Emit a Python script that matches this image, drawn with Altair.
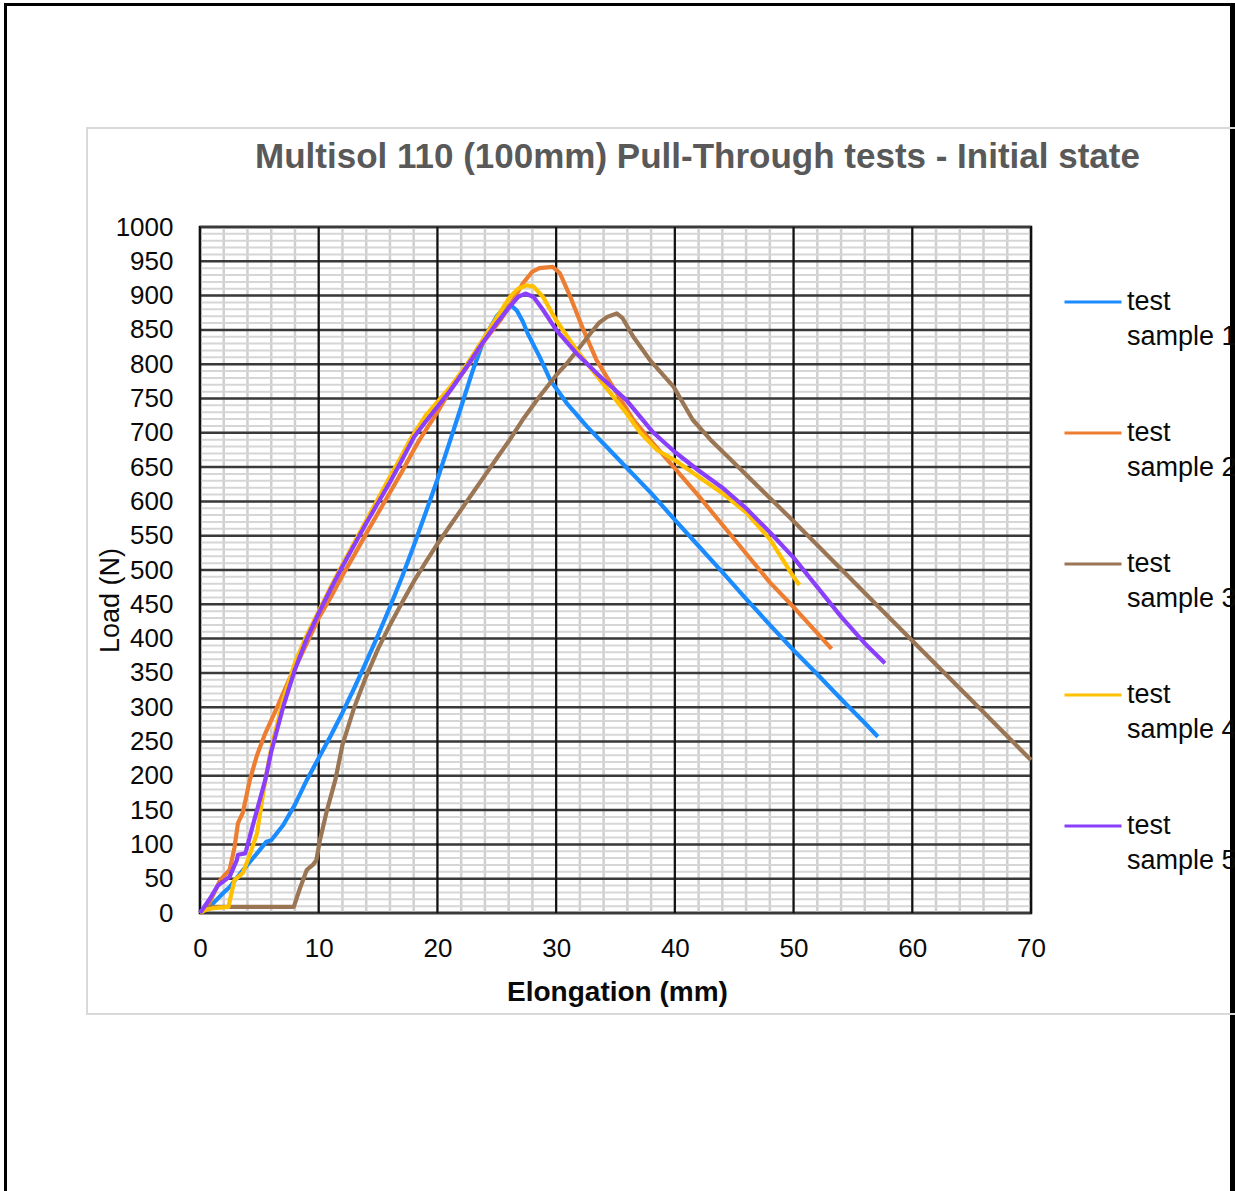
import altair as alt
import pandas as pd

series_names = ["test sample 1", "test sample 2", "test sample 3", "test sample 4", "test sample 5"]
series_colors = ["#1a8cff", "#ed7d31", "#9a7654", "#ffc000", "#8a3ffc"]

s1_x = [0, 0.5, 1.1, 2.0, 2.5, 3.5, 4.8, 5.6, 6.0, 7.0, 8.0, 9.0, 10.0, 11.0, 12.0, 13.0, 14.0, 15.0, 16.0, 17.0,
        18.0, 19.0, 20.0, 21.0, 22.0, 23.0, 24.0, 25.0, 25.7, 26.2, 26.7, 27.2, 27.6, 28.6, 29.5, 30.9, 32.6, 34.0,
        36.0, 38.0, 40.0, 42.0, 44.0, 46.0, 48.0, 50.0, 52.0, 54.0, 56.0, 57.1]
s1_y = [0, 7, 14, 30, 38, 60, 87, 104, 106, 128, 158, 194, 226, 258, 292, 328, 366, 405, 446, 489,
        535, 583, 632, 685, 738, 792, 840, 870, 884, 886, 878, 862, 845, 811, 777, 743, 709, 684,
        648, 612, 573, 535, 497, 458, 420, 383, 348, 312, 277, 257]

s2_x = [0, 0.8, 1.7, 2.5, 2.9, 3.2, 3.6, 4.2, 4.8, 5.5, 6.5, 7.5, 8.5, 10.0, 11.0, 12.0, 13.0, 14.0, 15.0, 16.0,
        17.0, 18.0, 18.5, 20.0, 21.0, 22.5, 24.0, 25.3, 26.5, 27.2, 28.0, 28.6, 29.7, 30.3, 31.2, 32.3, 33.4, 35.1,
        36.5, 38.0, 40.0, 42.0, 44.0, 46.0, 48.0, 50.0, 52.0, 53.2]
s2_y = [0, 15, 48, 63, 95, 131, 146, 194, 230, 262, 300, 340, 375, 430, 460, 492, 522, 553, 583, 613,
        643, 675, 690, 730, 760, 796, 835, 864, 897, 918, 935, 940, 942, 933, 898, 850, 806, 758,
        719, 688, 648, 608, 566, 524, 482, 446, 408, 385]

s3_x = [0, 0.8, 7.9, 8.4, 9.0, 9.5, 9.8, 10.1, 10.7, 11.4, 12.0, 13.0, 14.0, 15.0, 16.0, 17.0, 18.0, 19.0, 20.0,
        21.0, 22.0, 23.0, 24.0, 25.0, 26.1, 27.3, 28.6, 30.0, 30.9, 32.0, 32.9, 33.6, 34.3, 35.1, 35.6, 36.5, 37.9,
        39.9, 41.5, 43.0, 45.0, 50.0, 55.0, 60.0, 65.0, 70.0]
s3_y = [0, 9, 9, 35, 63, 70, 77, 106, 150, 194, 245, 300, 345, 385, 420, 452, 483, 511, 538,
        563, 588, 613, 638, 663, 690, 722, 753, 784, 801, 825, 845, 860, 869, 874, 867, 840, 806,
        767, 719, 690, 656, 571, 484, 397, 310, 223]

s4_x = [0, 0.5, 1.1, 2.4, 2.9, 3.6, 4.2, 4.8, 5.5, 6.0, 7.0, 8.0, 9.0, 10.0, 11.0, 12.0, 13.0, 14.0, 15.0, 16.0,
        17.0, 17.7, 19.0, 20.0, 21.1, 22.5, 23.8, 25.0, 26.1, 26.8, 27.5, 28.1, 28.9, 30.0, 31.7, 33.7, 35.9, 37.1,
        38.5, 40.0, 42.0, 44.0, 46.0, 48.0, 50.0, 50.5]
s4_y = [0, 5, 7, 9, 48, 58, 85, 116, 194, 240, 310, 365, 405, 440, 475, 508, 540, 572, 604, 636,
        667, 690, 725, 745, 767, 800, 835, 868, 898, 910, 915, 913, 898, 864, 821, 777, 729, 700,
        675, 660, 636, 612, 584, 545, 490, 478]

s5_x = [0, 0.8, 1.5, 2.5, 3.1, 3.2, 3.8, 3.9, 4.5, 5.5, 6.0, 7.0, 8.0, 9.0, 10.0, 11.0, 12.0, 14.0, 15.0, 16.0,
        17.0, 18.0, 19.0, 20.0, 21.1, 22.5, 23.8, 25.0, 26.1, 26.8, 27.4, 28.1, 28.9, 30.0, 31.7, 33.7, 35.9, 38.2,
        40.0, 42.0, 44.0, 46.0, 48.0, 50.0, 52.0, 54.0, 56.0, 57.7]
s5_y = [0, 20, 40, 53, 77, 85, 87, 92, 131, 194, 235, 300, 355, 400, 437, 472, 505, 568, 598, 628,
        660, 693, 716, 738, 762, 797, 831, 860, 884, 898, 903, 898, 879, 850, 816, 782, 748, 700,
        672, 645, 620, 590, 555, 518, 475, 432, 393, 364]

x_minor = list(range(0, 71, 2))
x_major = list(range(0, 71, 10))
y_minor = list(range(0, 1001, 10))
y_major = list(range(0, 1001, 50))

title_text = "Multisol 110 (100mm) Pull-Through tests - Initial state"
x_title = "Elongation (mm)"
y_title = "Load (N)"

FONT = "Liberation Sans"

rows = []
for name, xs, ys in zip(series_names, [s1_x, s2_x, s3_x, s4_x, s5_x], [s1_y, s2_y, s3_y, s4_y, s5_y]):
    for i, (a, b) in enumerate(zip(xs, ys)):
        rows.append({"series": name, "order": i, "elong": a, "load": b})
df = pd.DataFrame(rows)

x_scale = alt.Scale(domain=[0, 70], nice=False, zero=False)
y_scale = alt.Scale(domain=[0, 1000], nice=False, zero=False)

x_axis = alt.Axis(values=x_major, format="d", grid=False, ticks=False, domain=False,
                  labelFont=FONT, labelFontSize=26, labelColor="#0a0a0a", labelPadding=22,
                  labelFlush=False, labelOverlap=False,
                  titleFont=FONT, titleFontSize=28, titleFontWeight="bold", titleColor="#0a0a0a",
                  titleX=417, titleY=87, titleAlign="center", titleBaseline="alphabetic")
y_axis = alt.Axis(values=y_major, format="d", grid=False, ticks=False, domain=False,
                  labelFont=FONT, labelFontSize=26, labelColor="#0a0a0a", labelPadding=27,
                  labelFlush=False, labelOverlap=False,
                  titleFont=FONT, titleFontSize=27, titleFontWeight="normal", titleColor="#0a0a0a",
                  titleX=-90, titleY=373, titleAlign="center", titleBaseline="middle", titleAngle=-90)

one = alt.Data(values=[{"k": 1}])

# page decorations (frames of the scanned page and of the chart area)
border_left = alt.Chart(one).mark_rect(color="black").encode(
    x=alt.value(-196), x2=alt.value(-193), y=alt.value(-224), y2=alt.value(964))
border_top = alt.Chart(one).mark_rect(color="black").encode(
    x=alt.value(-196), x2=alt.value(1035), y=alt.value(-224), y2=alt.value(-221))
border_right = alt.Chart(one).mark_rect(color="black").encode(
    x=alt.value(1030), x2=alt.value(1035), y=alt.value(-224), y2=alt.value(964))
chart_frame = alt.Chart(one).mark_rect(fillOpacity=0, stroke="#d9d9d9", strokeWidth=2).encode(
    x=alt.value(-113), x2=alt.value(1040), y=alt.value(-99), y2=alt.value(787))

vminor = alt.Chart(pd.DataFrame({"elong": x_minor})).mark_rule(color="#cfcfcf", strokeWidth=2.5).encode(
    x=alt.X("elong:Q", scale=x_scale, title=x_title, axis=x_axis))
hminor = alt.Chart(pd.DataFrame({"load": y_minor})).mark_rule(color="#d6d6d6", strokeWidth=2).encode(
    y=alt.Y("load:Q", scale=y_scale, title=y_title, axis=y_axis))
hmajor = alt.Chart(pd.DataFrame({"load": y_major})).mark_rule(color="#3a3a3a", strokeWidth=2.5).encode(
    y=alt.Y("load:Q", scale=y_scale, title=y_title, axis=y_axis))
vmajor = alt.Chart(pd.DataFrame({"elong": x_major})).mark_rule(color="#111111", strokeWidth=2.2).encode(
    x=alt.X("elong:Q", scale=x_scale, title=x_title, axis=x_axis))

lines = alt.Chart(df).mark_line(strokeWidth=4.2, strokeJoin="round").encode(
    x=alt.X("elong:Q", scale=x_scale, title=x_title, axis=x_axis),
    y=alt.Y("load:Q", scale=y_scale, title=y_title, axis=y_axis),
    color=alt.Color("series:N", scale=alt.Scale(domain=series_names, range=series_colors),
                    legend=alt.Legend(orient="none", legendX=863, legendY=45, title=None,
                                      symbolType="stroke", symbolSize=3249, symbolStrokeWidth=3,
                                      labelFont=FONT, labelFontSize=27, labelColor="#0a0a0a",
                                      labelOffset=4, labelBaseline="middle", labelLimit=400,
                                      labelExpr="['test', replace(datum.label, 'test ', '')]",
                                      rowPadding=53, padding=0)),
    order=alt.Order("order:Q"),
)

chart = alt.layer(border_left, border_top, border_right, chart_frame,
                  vminor, hminor, hmajor, vmajor, lines).properties(
    width=831, height=686,
    title=alt.TitleParams(title_text, font=FONT, fontSize=35, fontWeight="bold", color="#595959",
                          anchor="middle", dx=82, dy=224, offset=52),
    autosize=alt.AutoSizeParams(type="none"),
    padding={"left": 200, "top": 227, "right": 204, "bottom": 278},
).configure(
    background="white",
    view=alt.ViewConfig(stroke="black", strokeWidth=2.5),
    style={"guide-label": {"lineHeight": 35}},
)

chart.save("out.html", embed_options={"renderer": "svg", "actions": False})
